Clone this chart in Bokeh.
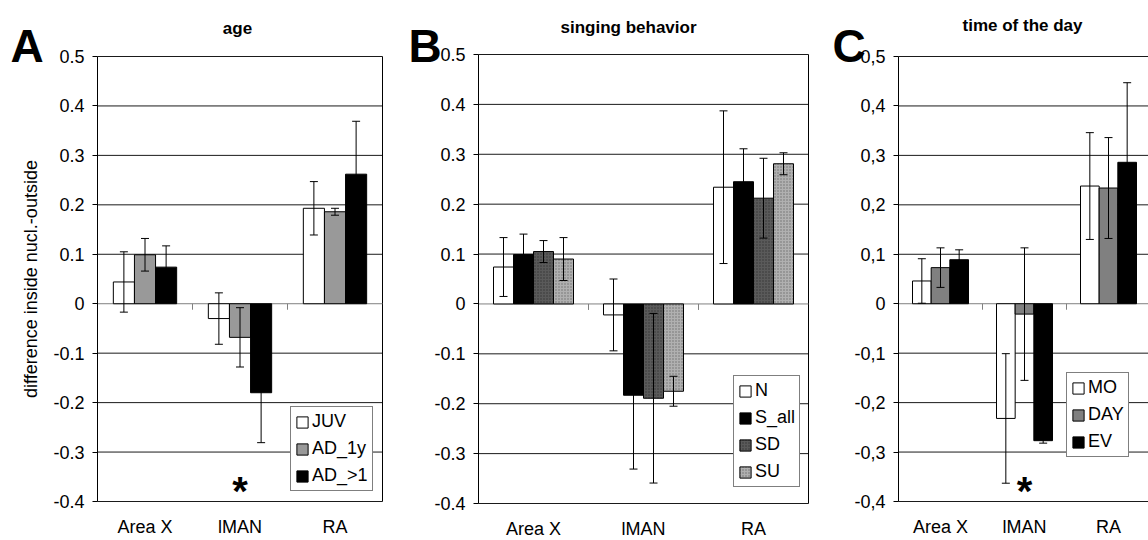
import numpy as np
from bokeh.plotting import figure
from bokeh.models import (ColumnDataSource, Whisker, TeeHead, Legend, LegendItem,
                          Label, FixedTicker)
from bokeh.layouts import row
from bokeh.core.properties import value
from bokeh.embed import file_html
from bokeh.resources import INLINE

# ---------------- data ----------------
regions = ["Area X", "lMAN", "RA"]

y_ticks = [-0.4, -0.3, -0.2, -0.1, 0, 0.1, 0.2, 0.3, 0.4, 0.5]
y_labels_dot = ["-0.4", "-0.3", "-0.2", "-0.1", "0", "0.1", "0.2", "0.3", "0.4", "0.5"]
y_labels_comma = ["-0,4", "-0,3", "-0,2", "-0,1", "0", "0,1", "0,2", "0,3", "0,4", "0,5"]

# A: age
age_groups = ["JUV", "AD_1y", "AD_>1"]
age_juv = [0.044, -0.030, 0.193]
age_juv_err = [0.061, 0.052, 0.054]
age_ad1y = [0.099, -0.068, 0.186]
age_ad1y_err = [0.033, 0.060, 0.007]
age_adgt1 = [0.074, -0.180, 0.262]
age_adgt1_err = [0.043, 0.101, 0.107]

# B: singing behavior
sing_groups = ["N", "S_all", "SD", "SU"]
sing_n = [0.074, -0.022, 0.234]
sing_n_err = [0.059, 0.072, 0.153]
sing_sall = [0.099, -0.183, 0.245]
sing_sall_err = [0.041, 0.148, 0.066]
sing_sd = [0.105, -0.189, 0.212]
sing_sd_err = [0.022, 0.170, 0.080]
sing_su = [0.090, -0.175, 0.281]
sing_su_err = [0.043, 0.030, 0.022]

# C: time of the day
time_groups = ["MO", "DAY", "EV"]
time_mo = [0.046, -0.232, 0.238]
time_mo_err = [0.045, 0.131, 0.108]
time_day = [0.073, -0.021, 0.234]
time_day_err = [0.040, 0.134, 0.102]
time_ev = [0.089, -0.277, 0.286]
time_ev_err = [0.020, 0.005, 0.161]

significant_region = "lMAN"

FONT = "Liberation Sans"
FS = "18px"
H = 540
Y_MIN, Y_MAX = y_ticks[0], y_ticks[-1]


def make_panel(fig_w, frame_left, px_per_cat, frame_top, frame_bottom,
               letter, letter_x, title, title_x, title_base,
               groups, means, errs, styles, ylabels, legend_loc,
               ylabel=None, sig=False, right_border=True):
    ncat = len(regions)
    x0 = -frame_left / px_per_cat
    x1 = (fig_w - frame_left) / px_per_cat
    ppy = (frame_bottom - frame_top) / (Y_MAX - Y_MIN)
    y1 = Y_MAX + frame_top / ppy
    y0 = Y_MIN - (H - frame_bottom) / ppy

    p = figure(width=fig_w, height=H, x_range=(x0, x1), y_range=(y0, y1),
               output_backend="svg", toolbar_location=None,
               min_border=0, min_border_left=0, min_border_right=0,
               min_border_top=0, min_border_bottom=0)
    p.xgrid.visible = False
    p.ygrid.visible = False
    p.outline_line_color = None
    p.background_fill_color = "white"
    p.border_fill_color = "white"

    centers = [i + 0.5 for i in range(ncat)]

    # x axis: category labels under the frame
    xax = p.xaxis[0]
    xax.fixed_location = Y_MIN
    xax.bounds = (0, ncat)
    xax.ticker = FixedTicker(ticks=centers)
    xax.major_label_overrides = dict(zip(centers, regions))
    xax.axis_line_color = None
    xax.major_tick_line_color = None
    xax.minor_tick_line_color = None
    xax.major_tick_out = 0
    xax.major_tick_in = 0
    xax.major_label_standoff = 15
    xax.major_label_text_font = FONT
    xax.major_label_text_font_size = FS
    xax.major_label_text_color = "black"

    # y axis
    yax = p.yaxis[0]
    yax.fixed_location = 0
    yax.bounds = (Y_MIN, Y_MAX)
    yax.ticker = FixedTicker(ticks=y_ticks)
    yax.major_label_overrides = dict(zip(y_ticks, ylabels))
    yax.major_tick_out = 5
    yax.major_tick_in = 0
    yax.minor_tick_line_color = None
    yax.axis_line_color = "black"
    yax.major_tick_line_color = "black"
    yax.major_label_standoff = 8
    yax.major_label_text_font = FONT
    yax.major_label_text_font_size = FS
    yax.major_label_text_color = "black"
    if ylabel:
        yax.axis_label = ylabel
        yax.axis_label_text_font = FONT
        yax.axis_label_text_font_size = FS
        yax.axis_label_text_font_style = "normal"
        yax.axis_label_text_color = "black"
        yax.axis_label_standoff = 9

    # horizontal grid lines (incl. top and bottom frame edges)
    gt = [t for t in y_ticks if t != 0]
    p.segment(x0=[0] * len(gt), y0=gt, x1=[ncat] * len(gt), y1=gt,
              line_color="#1a1a1a", line_width=1)
    if right_border:
        p.segment(x0=[ncat], y0=[Y_MIN], x1=[ncat], y1=[Y_MAX],
                  line_color="black", line_width=1)
    # zero line + category ticks
    p.segment(x0=[0], y0=[0], x1=[ncat], y1=[0], line_color="#808080", line_width=1)
    bounds = list(range(1, ncat))
    p.ray(x=bounds, y=[0] * len(bounds), length=6, length_units="screen",
          angle=-np.pi / 2, line_color="#808080", line_width=1)

    n = len(groups)
    w = 1.0 / (n + 1.5)
    items = []
    for j, g in enumerate(groups):
        xs = [c + (j - (n - 1) / 2) * w for c in centers]
        st = styles[j]
        src = ColumnDataSource(dict(x=xs, top=means[j],
                                    upper=[m + e for m, e in zip(means[j], errs[j])],
                                    lower=[m - e for m, e in zip(means[j], errs[j])]))
        r = p.vbar(x="x", top="top", bottom=0, width=w, source=src,
                   fill_color=st["fill"], line_color="black", line_width=1,
                   hatch_pattern=st.get("hatch"), hatch_color=st.get("hcolor", "black"),
                   hatch_scale=st.get("hscale", 3), hatch_weight=1)
        wk = Whisker(source=src, base="x", upper="upper", lower="lower",
                     dimension="height", line_color="black", line_width=1,
                     upper_head=TeeHead(size=8, line_color="black", line_width=1),
                     lower_head=TeeHead(size=8, line_color="black", line_width=1),
                     level="annotation")
        p.add_layout(wk)
        items.append(LegendItem(label=g, renderers=[r]))

    leg = Legend(items=items, location=legend_loc, margin=0, padding=4,
                 spacing=6, glyph_width=14, glyph_height=14, label_height=20,
                 label_standoff=3, label_text_font=FONT, label_text_font_size=FS,
                 label_text_color="black", border_line_color="black",
                 border_line_width=1, background_fill_color="white",
                 background_fill_alpha=1)
    p.add_layout(leg)

    # panel letter and title (screen coordinates, origin bottom-left)
    p.add_layout(Label(x=letter_x, y=H - 45, x_units="screen", y_units="screen",
                       text=letter, text_align="left", text_baseline="alphabetic",
                       text_font=FONT, text_font_size="46px", text_font_style="bold",
                       text_color="black"))
    p.add_layout(Label(x=title_x, y=H - title_base, x_units="screen", y_units="screen",
                       text=title, text_align="center", text_baseline="alphabetic",
                       text_font=FONT, text_font_size="17px", text_font_style="bold",
                       text_color="black"))
    if sig:
        k = regions.index(significant_region)
        p.add_layout(Label(x=k + 0.5, y=-0.379, text="*",
                           text_align="center", text_baseline="middle",
                           text_font=FONT, text_font_size="40px", text_font_style="bold",
                           text_color="black"))
    return p


pA = make_panel(398, 97, 95, 56, 501, "A", 10, "age", 237, 28,
                age_groups, [age_juv, age_ad1y, age_adgt1],
                [age_juv_err, age_ad1y_err, age_adgt1_err],
                [dict(fill="white"), dict(fill="#999999"), dict(fill="black")],
                y_labels_dot, (290, 49),
                ylabel="difference inside nucl.-outside", sig=True)

pB = make_panel(420, 80, 110, 54, 503, "B", 10, "singing behavior", 230, 27,
                sing_groups, [sing_n, sing_sall, sing_sd, sing_su],
                [sing_n_err, sing_sall_err, sing_sd_err, sing_su_err],
                [dict(fill="white"), dict(fill="black"),
                 dict(fill="#5a5a5a", hatch="dot", hcolor="#333333", hscale=3),
                 dict(fill="#b0b0b0", hatch="dot", hcolor="#6e6e6e", hscale=3)],
                y_labels_dot, (335, 53))

pC = make_panel(330, 80, 84, 56, 501, "C", 14, "time of the day", 204, 25,
                time_groups, [time_mo, time_day, time_ev],
                [time_mo_err, time_day_err, time_ev_err],
                [dict(fill="white"), dict(fill="#808080"), dict(fill="black")],
                y_labels_comma, (248, 83), sig=True, right_border=False)

layout = row(pA, pB, pC)
open("out.html", "w").write(file_html(layout, INLINE))
